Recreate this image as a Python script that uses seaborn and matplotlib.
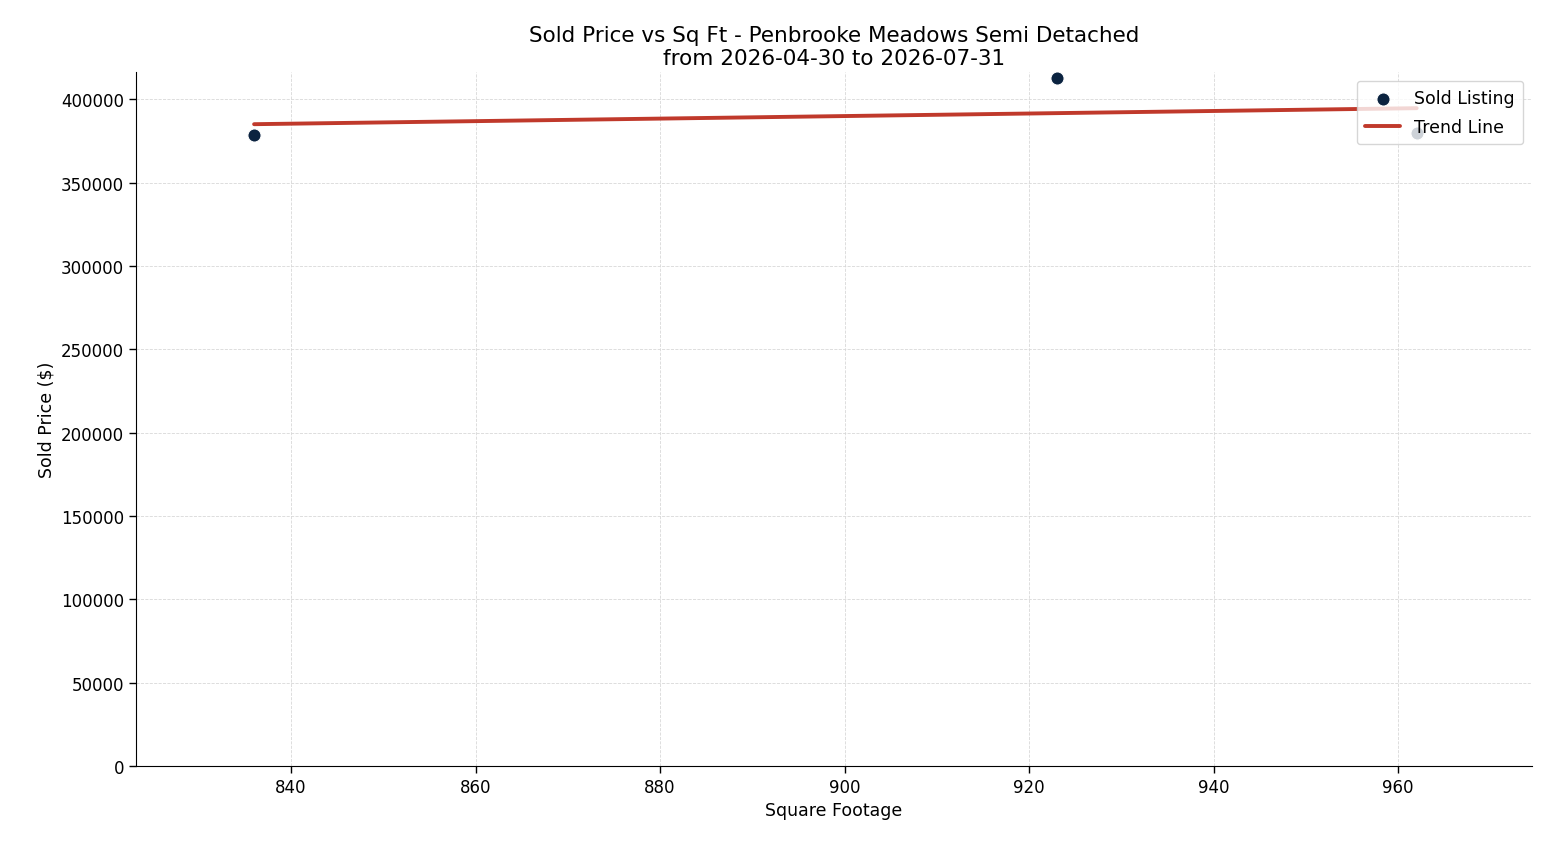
import numpy as np
import pandas as pd
import matplotlib
matplotlib.use("Agg")
import matplotlib.pyplot as plt
import seaborn as sns

sqft = [836, 923, 962]
price = [378500, 413000, 380000]

sns.set_style("ticks")
plt.rcParams['font.family'] = ['DejaVu Sans']
for k in ["text.color", "axes.labelcolor", "xtick.color", "ytick.color", "axes.edgecolor"]:
    plt.rcParams[k] = "black"
fig, ax = plt.subplots(figsize=(15.47, 8.45), dpi=100)
fig.subplots_adjust(left=136/1547, right=1532/1547, top=1-73/845, bottom=1-767/845)

df = pd.DataFrame({"sqft": sqft, "price": price})
sns.scatterplot(data=df, x="sqft", y="price", ax=ax, color="#0b2340", s=90, label="Sold Listing", zorder=3, edgecolor="white", linewidth=0.8)
m, b = np.polyfit(sqft, price, 1)
xs = np.array([min(sqft), max(sqft)])
sns.lineplot(x=xs, y=m*xs+b, ax=ax, color="#c0392b", linewidth=2.8, label="Trend Line", zorder=2)

ax.set_xlim(823.2, 974.5)
ax.set_ylim(0, 416400)
ax.set_xticks([840, 860, 880, 900, 920, 940, 960])
ax.set_yticks(range(0, 400001, 50000))
ax.grid(True, linestyle="--", linewidth=0.6, color="#d8d8d8")
ax.set_axisbelow(True)
sns.despine(ax=ax)
ax.tick_params(labelsize=12, length=5, width=1, colors="black")
ax.set_xlabel("Square Footage", fontsize=12.5)
ax.set_ylabel("Sold Price ($)", fontsize=12.5)
ax.set_title("Sold Price vs Sq Ft - Penbrooke Meadows Semi Detached\nfrom 2026-04-30 to 2026-07-31", fontsize=15.5, linespacing=1.15)
ax.legend(loc="upper right", fontsize=12.5, borderpad=0.5, labelspacing=0.6, markerscale=1.0)
fig.savefig("out.png", dpi=100)
